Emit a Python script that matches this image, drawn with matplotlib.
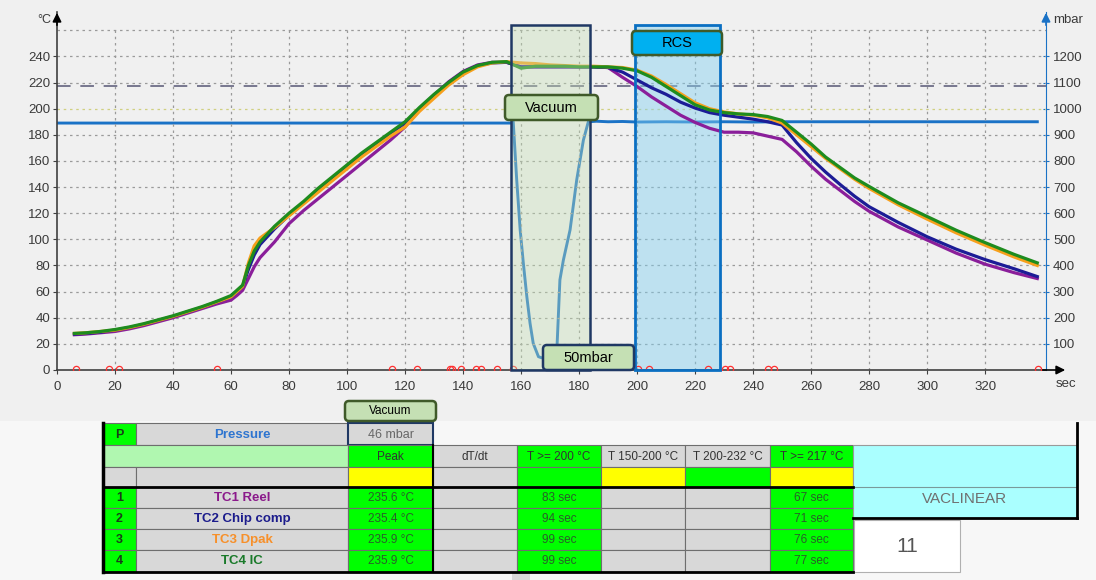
import matplotlib.pyplot as plt
from matplotlib.patches import Rectangle, FancyBboxPatch

plt.rcParams['font.family'] = ['Liberation Sans', 'DejaVu Sans']

# thermocouple readings, deg C, sampled at the same times (sec)
time = [6, 10, 15, 20, 25, 30, 35, 40, 45, 50, 55, 60, 62, 64, 66, 68, 70,
        75, 80, 85, 90, 95, 100, 105, 110, 115, 120, 125, 130, 135, 140, 145,
        150, 155, 160, 165, 170, 175, 180, 185, 190, 195, 200, 205, 210, 215,
        220, 225, 230, 235, 240, 245, 250, 255, 260, 265, 270, 275, 280,
        290, 300, 310, 320, 330, 338]
tc1_reel = [27, 27.5, 28.5, 29.5, 31.5, 34, 37, 40, 43.5, 47, 50.5, 53.5, 57, 61, 70, 79, 86,
            98, 112, 122, 131, 140, 149, 158, 167, 176, 186, 199, 210, 220.5, 228.5, 233.5,
            235.5, 235.5, 232, 232, 232, 232, 232, 232, 231.5, 224, 217, 209, 202, 195,
            189.5, 185, 182, 182, 181.5, 179, 176.5, 167, 156, 146, 137.5, 129, 121.5,
            109.5, 99.5, 89.5, 81, 74.5, 70]
tc2_chip = [27.5, 28, 29, 30.5, 32.5, 35, 38, 41, 44.5, 48, 52, 56, 60, 64, 77, 88, 96,
            108, 118.5, 128, 138, 147, 156, 165, 173, 181, 189, 200, 210.5, 220, 228, 233,
            235, 235.5, 232, 232, 232, 232, 232, 232, 231.5, 228, 222, 216, 211, 205,
            200.5, 197, 195, 193.5, 192, 190, 187.5, 174, 162, 151.5, 142, 133, 125,
            113, 102, 92.5, 84.5, 77.5, 71.5]
tc3_dpak = [28, 28.5, 29.5, 30.5, 32.5, 35, 38, 41, 44.5, 48, 52, 56, 60, 64, 82, 95, 101,
            109, 118, 127, 136, 145, 154, 163, 171, 179, 186, 198, 208, 218, 226, 232,
            235, 236, 235, 234.5, 233.5, 233, 232.5, 232.5, 232, 231.5, 229.5, 225, 218.5, 211.5,
            204.5, 200, 197.5, 196, 195, 193, 189, 180, 171, 162, 154, 146, 139,
            126.5, 115.5, 105, 95.5, 86.5, 80]
tc4_ic = [28, 28.5, 29.5, 31, 33, 35.5, 38.5, 41.5, 45, 48.5, 52.5, 57, 61, 65, 80, 91, 98,
          110, 120, 129, 139, 148, 157, 166, 174, 182, 190, 201, 211, 220, 228, 233,
          235.5, 236, 231, 232.5, 232.5, 232.5, 232, 232, 232, 231, 229, 224, 217, 210,
          203, 199, 197, 196, 195.5, 194, 191, 182, 173, 163, 155, 147, 140.5,
          128, 117.5, 107, 97.5, 88.5, 82]

# chamber pressure, mbar
p_time = [0, 156.5, 157.3, 158.5, 159.7, 160.8, 162, 163.1, 164.2, 166, 167, 168, 169,
          170, 171, 172.3, 172.9, 173.4, 174.6, 176.9, 179.2, 181.5, 183.2, 186, 190,
          195, 200, 210, 220, 230, 240, 250, 260, 280, 300, 320, 338]
pressure = [945, 945, 950, 728, 536, 408, 280, 179, 102, 51, 47, 46, 46,
            47, 52, 64, 217, 345, 421, 536, 728, 880, 950, 952, 950,
            951, 949, 950, 949, 950, 949, 950, 950, 950, 950, 950, 950]

# event markers along the time axis
events = [6.5, 18, 21.4, 55, 115.5, 124, 135.5, 136.2, 139.3, 144.5, 146.2, 151.6,
          157.3, 200.3, 204, 224.5, 230.3, 232, 245.2, 247.2, 338.3]

vacuum_span = (156.6, 183.8)
rcs_span = (199.3, 228.6)

# summary table
channels = ['TC1 Reel', 'TC2 Chip comp', 'TC3 Dpak', 'TC4 IC']
channel_colors = ['#8b1a8b', '#1c1c8c', '#f7902a', '#1a7a2a']
peak = [235.6, 235.4, 235.9, 235.9]
above200 = [83, 94, 99, 99]
above217 = [67, 71, 76, 77]
min_pressure = 46
headers = ['Peak', 'dT/dt', 'T >= 200 °C', 'T 150-200 °C', 'T 200-232 °C', 'T >= 217 °C']
program = 'VACLINEAR'
program_no = 11

W, H = 1096, 580
fig = plt.figure(figsize=(W / 100, H / 100), dpi=100, facecolor='#f0f0f0')

# temperature axes on top of the pressure axes
ax2 = fig.add_axes([57 / W, 1 - 370 / H, 989 / W, 358 / H])
ax = fig.add_axes([57 / W, 1 - 370 / H, 989 / W, 358 / H], sharex=ax2)
ax.set_zorder(ax2.get_zorder() + 1)
ax.patch.set_visible(False)
ax2.set_facecolor('#f0f0f0')
ax2.yaxis.tick_right()
ax2.yaxis.set_label_position('right')
ax.yaxis.tick_left()

ax.set_xlim(0, 341)
ax.set_ylim(0, 274)
ax2.set_ylim(0, 1370)

grid_kw = dict(color='#9a9a9a', lw=0.9, linestyles=(0, (2, 3)), zorder=1)
ax.vlines(range(20, 340, 20), 0, 260, **grid_kw)
ax.hlines([t for t in range(20, 261, 20) if t != 200], 0, 341, **grid_kw)
ax.hlines(200, 0, 341, color='#d0d080', lw=0.9, linestyles=(0, (2, 3)), zorder=1)
ax.hlines(217, 0, 341, color='#77778f', lw=1.4, linestyles=(0, (7, 5)), zorder=2)

ax2.plot(p_time, pressure, color='#1a72c6', lw=2.1)

for vals, col in [(tc1_reel, '#8a1e9a'), (tc2_chip, '#1c1c96'),
                  (tc3_dpak, '#f7a01c'), (tc4_ic, '#1e8c1e')]:
    ax.plot(time, vals, color=col, lw=2.3, zorder=3)

ax.plot(events, [1] * len(events), ls='none', marker='o', ms=4.5, mfc='none',
        mec='#ff3030', mew=0.9, zorder=4)

# vacuum zone overlays the curves, RCS zone sits under them
ax.add_patch(Rectangle((vacuum_span[0], 0), vacuum_span[1] - vacuum_span[0], 264,
                       fc='#c5e0b4', alpha=0.38, ec='none', zorder=5))
ax.add_patch(Rectangle((vacuum_span[0], 0), vacuum_span[1] - vacuum_span[0], 264,
                       fill=False, ec='#1f3864', lw=1.8, zorder=6, clip_on=False))
ax.add_patch(Rectangle((rcs_span[0], 0), rcs_span[1] - rcs_span[0], 264,
                       fc='#81cff0', alpha=0.45, ec='none', zorder=2.5))
ax.add_patch(Rectangle((rcs_span[0], 0), rcs_span[1] - rcs_span[0], 264,
                       fill=False, ec='#0a6fc2', lw=2, zorder=6, clip_on=False))

# axes styling
for s in ['top', 'right']:
    ax.spines[s].set_visible(False)
for s in ['top', 'left', 'bottom']:
    ax2.spines[s].set_visible(False)
ax.spines['left'].set_color('#404040')
ax.spines['bottom'].set_color('#404040')
ax.spines['left'].set_linewidth(1.2)
ax.spines['bottom'].set_linewidth(1.2)
ax2.spines['right'].set_color('#1a72c6')
ax2.spines['right'].set_linestyle((0, (2, 1)))

ax.set_xticks(range(0, 340, 20))
ax.set_yticks(range(0, 241, 20))
ax2.set_yticks(range(100, 1201, 100))
ax.tick_params(axis='both', labelsize=9.5, labelcolor='#3a3a3a', color='#404040',
               length=3, pad=2)
ax.tick_params(axis='x', pad=5)
ax2.tick_params(axis='y', labelsize=9.5, labelcolor='#3a3a3a', color='#1a72c6',
                length=4, direction='inout', pad=3)
ax2.tick_params(axis='x', bottom=False, labelbottom=False)

# overlay in pixel coordinates for arrows, tags and the table
ov = fig.add_axes([0, 0, 1, 1], zorder=10)
ov.set_xlim(0, W)
ov.set_ylim(H, 0)
ov.axis('off')
ov.patch.set_visible(False)

arrow = dict(arrowstyle='-|>', lw=1.2, mutation_scale=13)
ov.annotate('', xy=(1068, 370), xytext=(1040, 370), arrowprops=dict(color='black', **arrow))
ov.annotate('', xy=(57, 10), xytext=(57, 28), arrowprops=dict(color='black', **arrow))
ov.annotate('', xy=(1046, 10), xytext=(1046, 28), arrowprops=dict(color='#1a72c6', **arrow))
ov.text(44, 20, '°C', ha='center', va='center', fontsize=9, color='#3a3a3a')
ov.text(1053, 20, 'mbar', ha='left', va='center', fontsize=9.5, color='#3a3a3a')
ov.text(1056, 384, 'sec', ha='left', va='center', fontsize=9.5, color='#3a3a3a')


def tag(x0, x1, y0, y1, text, fc, ec, size=10.5):
    ov.add_patch(FancyBboxPatch((x0, y0), x1 - x0, y1 - y0,
                                boxstyle='round,pad=0,rounding_size=4',
                                fc=fc, ec=ec, lw=1.8))
    ov.text((x0 + x1) / 2, (y0 + y1) / 2, text, ha='center', va='center',
            fontsize=size, color='black')


tag(632, 722, 31, 55, 'RCS', '#00b0f0', '#3f5a29')
tag(505, 598, 95, 120, 'Vacuum', '#c5e0b4', '#3f5a29')
tag(543, 634, 345, 370, '50mbar', '#c5e0b4', '#1f3864')

# lower panel background
ov.add_patch(Rectangle((0, 421), W, H - 421, fc='#f7f7f7', ec='none'))
ov.add_patch(Rectangle((512, 562), 18, 18, fc='#d8d8d8', ec='none'))

GREEN, GRAY, YELLOW = '#00ff00', '#d8d8d8', '#ffff00'
cols = [103, 136, 348, 433, 517, 601, 685, 770, 853]
rows = [423, 445, 467, 487, 508, 529, 550, 572]


def cell(x0, x1, y0, y1, fc, text='', color='#333333', bold=False, size=8.5, ec='#6e6e6e', lw=0.8):
    ov.add_patch(Rectangle((x0, y0), x1 - x0, y1 - y0, fc=fc, ec=ec, lw=lw))
    if text:
        ov.text((x0 + x1) / 2, (y0 + y1) / 2 + 0.5, text, ha='center', va='center',
                fontsize=size, color=color, fontweight='bold' if bold else 'normal')


# pressure row
cell(103, 136, rows[0], rows[1], GREEN, 'P', '#1a3a1a', bold=True, size=9)
cell(136, 348, rows[0], rows[1], GRAY, 'Pressure', '#2e75d0', bold=True, size=9.5)
cell(348, 433, rows[0], rows[1], GRAY, f'{min_pressure} mbar', '#666666', size=9,
     ec='#1f3864', lw=1.5)
tag(345, 436, 401, 421, 'Vacuum', '#c5e0b4', '#3f5a29', size=8.5)

# header rows
head_fc = [GREEN, GRAY, GREEN, GRAY, GRAY, GREEN]
limit_fc = [YELLOW, GRAY, GREEN, YELLOW, GREEN, YELLOW]
cell(103, 348, rows[1], rows[2], '#b0f7b0')
cell(103, 136, rows[2], rows[3], GRAY)
cell(136, 348, rows[2], rows[3], GRAY)
for i, h in enumerate(headers):
    cell(cols[i + 2], cols[i + 3], rows[1], rows[2], head_fc[i], h, '#333333', size=8.5)
    cell(cols[i + 2], cols[i + 3], rows[2], rows[3], limit_fc[i])

# channel rows
data_fc = [GREEN, GRAY, GREEN, GRAY, GRAY, GREEN]
for r, name in enumerate(channels):
    y0, y1 = rows[r + 3], rows[r + 4]
    cell(103, 136, y0, y1, GREEN, str(r + 1), '#1a3a1a', bold=True, size=9)
    cell(136, 348, y0, y1, GRAY, name, channel_colors[r], bold=True, size=9.5)
    texts = [f'{peak[r]} °C', '', f'{above200[r]} sec', '', '', f'{above217[r]} sec']
    for i, t in enumerate(texts):
        cell(cols[i + 2], cols[i + 3], y0, y1, data_fc[i], t, '#2a5e2a', size=8.5)

# program info block
ov.add_patch(Rectangle((853, 445), 224, 73, fc='#aaffff', ec='#9a9a9a', lw=0.8))
ov.plot([853, 1077], [487, 487], color='#7a9a9a', lw=0.8)
ov.text(965, 499, program, ha='center', va='center', fontsize=11, color='#707070')
ov.add_patch(Rectangle((854, 520), 106, 52, fc='white', ec='#b0b0b0', lw=0.8))
ov.text(907, 546, str(program_no), ha='center', va='center', fontsize=15, color='#555555')

# heavy table borders
ov.plot([103, 103], [423, 572], color='black', lw=2.5)
ov.plot([103, 853], [572, 572], color='black', lw=2)
ov.plot([103, 853], [487, 487], color='black', lw=2)
ov.plot([433, 433], [445, 572], color='black', lw=1.5)
ov.plot([1077, 1077], [423, 518], color='black', lw=2)
ov.plot([853, 1077], [518, 518], color='black', lw=2)

fig.savefig('out.png', dpi=100, facecolor=fig.get_facecolor())
